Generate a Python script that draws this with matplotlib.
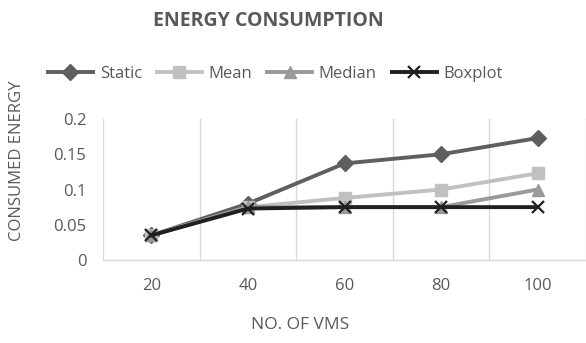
import matplotlib.pyplot as plt
import numpy as np

plt.rcParams['font.family'] = ['Open Sans', 'DejaVu Sans']

# data ------------------------------------------------------------
vms = ['20', '40', '60', '80', '100']
static = [0.035, 0.080, 0.137, 0.150, 0.173]
mean = [0.035, 0.075, 0.088, 0.100, 0.123]
median = [0.035, 0.075, 0.075, 0.075, 0.100]
boxplot = [0.035, 0.073, 0.075, 0.075, 0.075]

txt = '#595959'

fig = plt.figure(figsize=(5.86, 3.43), dpi=100)
ax = fig.add_axes([0.176, 0.242, 0.824, 0.411])

x = np.arange(len(vms))
lw = 2.8
ax.plot(x, static, color='#5f5f5f', lw=lw, marker='D', ms=8, label='Static')
ax.plot(x, mean, color='#c0c0c0', lw=lw, marker='s', ms=9, label='Mean')
ax.plot(x, median, color='#9a9a9a', lw=lw, marker='^', ms=9, label='Median')
ax.plot(x, boxplot, color='#202020', lw=lw, marker='x', ms=9, mew=1.6,
        label='Boxplot')

# axes ------------------------------------------------------------
ax.set_xlim(-0.5, len(vms) - 0.5)
ax.set_ylim(0, 0.2)
ax.set_xticks(x)
ax.set_xticklabels(vms, fontsize=12)
ax.set_yticks([0, 0.05, 0.1, 0.15, 0.2])
ax.set_yticklabels(['0', '0.05', '0.1', '0.15', '0.2'], fontsize=12)
ax.set_xticks(np.arange(-0.5, len(vms)), minor=True)
ax.grid(True, which='minor', axis='x', color='#d9d9d9', lw=1)
ax.tick_params(which='both', length=0, colors=txt)
ax.tick_params(axis='x', pad=13)
ax.tick_params(axis='y', pad=12)
for s in ['top', 'right', 'left']:
    ax.spines[s].set_visible(False)
ax.spines['bottom'].set_color('#d9d9d9')
ax.spines['bottom'].set_linewidth(1)

fig.text(0.512, 0.03, 'NO. OF VMS', ha='center', va='bottom', fontsize=12.5,
         color=txt)
fig.text(0.016, 0.53, 'CONSUMED ENERGY', rotation=90, ha='left',
         va='center', fontsize=12, color=txt)
fig.text(0.458, 0.94, 'ENERGY CONSUMPTION', ha='center', va='center',
         fontsize=14, fontweight='bold', color=txt)

fig.legend(loc='center', bbox_to_anchor=(0.47, 0.785), ncol=4, frameon=False,
           handlelength=2.7, fontsize=12, labelcolor=txt, columnspacing=0.9,
           handletextpad=0.4)

plt.savefig('out.png', dpi=100)
